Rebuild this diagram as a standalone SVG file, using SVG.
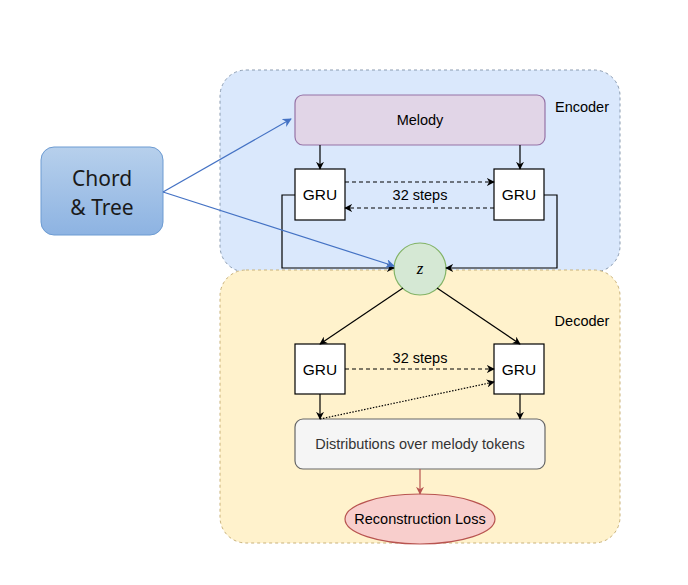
<svg xmlns="http://www.w3.org/2000/svg" width="688" height="585" viewBox="0 0 688 585">
<defs>
<linearGradient id="gBlue" x1="0" y1="0" x2="0" y2="1">
<stop offset="0" stop-color="#b7d0ec"/>
<stop offset="1" stop-color="#8db3e2"/>
</linearGradient>
<marker id="ah" viewBox="0 0 10 10" refX="9" refY="5" markerWidth="8" markerHeight="8" markerUnits="userSpaceOnUse" orient="auto">
<path d="M0,0 L10,5 L0,10 L3,5 Z" fill="#000"/>
</marker>
<marker id="ahBlue" viewBox="0 0 10 10" refX="9" refY="5" markerWidth="9" markerHeight="9" markerUnits="userSpaceOnUse" orient="auto">
<path d="M0,0 L10,5 L0,10 L3,5 Z" fill="#4472c4"/>
</marker>
<marker id="ahRed" viewBox="0 0 10 10" refX="9" refY="5" markerWidth="8" markerHeight="8" markerUnits="userSpaceOnUse" orient="auto">
<path d="M0,0 L10,5 L0,10 L3,5 Z" fill="#b85450"/>
</marker>
</defs>
<style>
text{font-family:"Liberation Sans",Arial,sans-serif;fill:#000;}
.lbl{font-size:14.5px;text-anchor:middle;}
.g{font-size:15.5px;text-anchor:middle;}
.gru{fill:#fff;stroke:#000;stroke-width:1.2;}
.wire{fill:none;stroke:#000;stroke-width:1.2;}
.ct{font-family:"Noto Sans","Liberation Sans",sans-serif;font-size:21px;text-anchor:middle;fill:#1a1a1a;}
</style>
<rect width="688" height="585" fill="#fff"/>
<g id="encoder">
<rect x="220" y="70" width="400" height="202" rx="26" fill="#dae8fc" stroke="#8a9bb0" stroke-width="1" stroke-dasharray="3,3"/>
<text x="582" y="112" class="lbl">Encoder</text>
</g>
<g id="decoder">
<rect x="220" y="270" width="400" height="273" rx="26" fill="#fff2cc" stroke="#c9b27a" stroke-width="1" stroke-dasharray="3,3"/>
<text x="582" y="326" class="lbl">Decoder</text>
</g>
<g id="chord">
<rect x="41" y="147" width="122" height="88" rx="13" fill="url(#gBlue)" stroke="#6c9bd2" stroke-width="1"/>
<text x="102" y="186" class="ct">Chord</text>
<text x="102" y="215" class="ct">&amp; Tree</text>
</g>
<g id="melody">
<rect x="295" y="95" width="250" height="50" rx="8" fill="#e1d5e7" stroke="#9673a6" stroke-width="1.2"/>
<text x="420" y="125" class="lbl">Melody</text>
</g>
<g id="enc-gru-left">
<rect x="295" y="169" width="50" height="51" class="gru"/>
<text x="320" y="200" class="g">GRU</text>
</g>
<g id="enc-gru-right">
<rect x="494" y="169" width="50" height="51" class="gru"/>
<text x="519" y="200" class="g">GRU</text>
</g>
<g id="z">
<circle cx="420" cy="269" r="26" fill="#d5e8d4" stroke="#82b366" stroke-width="1.2"/>
<text x="420" y="274" style="font-family:'Liberation Serif','DejaVu Serif',serif;font-style:italic;font-size:17px;text-anchor:middle">z</text>
</g>
<g id="dec-gru-left">
<rect x="295" y="344" width="50" height="50" class="gru"/>
<text x="320" y="375" class="g">GRU</text>
</g>
<g id="dec-gru-right">
<rect x="494" y="344" width="50" height="50" class="gru"/>
<text x="519" y="375" class="g">GRU</text>
</g>
<g id="distributions">
<rect x="295" y="419" width="250" height="50" rx="8" fill="#f5f5f5" stroke="#666" stroke-width="1.2"/>
<text x="420" y="449" class="lbl" style="fill:#333">Distributions over melody tokens</text>
</g>
<g id="loss">
<ellipse cx="420" cy="519" rx="75" ry="25" fill="#f8cecc" stroke="#b85450" stroke-width="1.2"/>
<text x="420" y="524" class="lbl">Reconstruction Loss</text>
</g>
<g id="connectors">
<line x1="320" y1="145" x2="320" y2="169" class="wire" marker-end="url(#ah)"/>
<line x1="520" y1="145" x2="520" y2="169" class="wire" marker-end="url(#ah)"/>
<line x1="345" y1="182" x2="494" y2="182" class="wire" stroke-dasharray="4,3" marker-end="url(#ah)"/>
<line x1="494" y1="208" x2="345" y2="208" class="wire" stroke-dasharray="4,3" marker-end="url(#ah)"/>
<text x="420" y="200" class="lbl">32 steps</text>
<polyline points="295,195 282,195 282,268 394,268" class="wire" marker-end="url(#ah)"/>
<polyline points="544,195 557,195 557,268 446,268" class="wire" marker-end="url(#ah)"/>
<line x1="403" y1="288" x2="320" y2="344" class="wire" marker-end="url(#ah)"/>
<line x1="437" y1="288" x2="520" y2="344" class="wire" marker-end="url(#ah)"/>
<line x1="345" y1="369" x2="494" y2="369" class="wire" stroke-dasharray="4,3" marker-end="url(#ah)"/>
<text x="420" y="363" class="lbl">32 steps</text>
<line x1="320" y1="419" x2="494" y2="382" class="wire" stroke-dasharray="1.5,1.5" marker-end="url(#ah)"/>
<line x1="320" y1="394" x2="320" y2="419" class="wire" marker-end="url(#ah)"/>
<line x1="520" y1="394" x2="520" y2="419" class="wire" marker-end="url(#ah)"/>
<line x1="420" y1="469" x2="420" y2="494" fill="none" stroke="#b85450" stroke-width="1.2" marker-end="url(#ahRed)"/>
<line x1="163" y1="192" x2="291" y2="119" fill="none" stroke="#4472c4" stroke-width="1.2" marker-end="url(#ahBlue)"/>
<line x1="163" y1="192" x2="394" y2="266" fill="none" stroke="#4472c4" stroke-width="1.2" marker-end="url(#ahBlue)"/>
</g>
</svg>
